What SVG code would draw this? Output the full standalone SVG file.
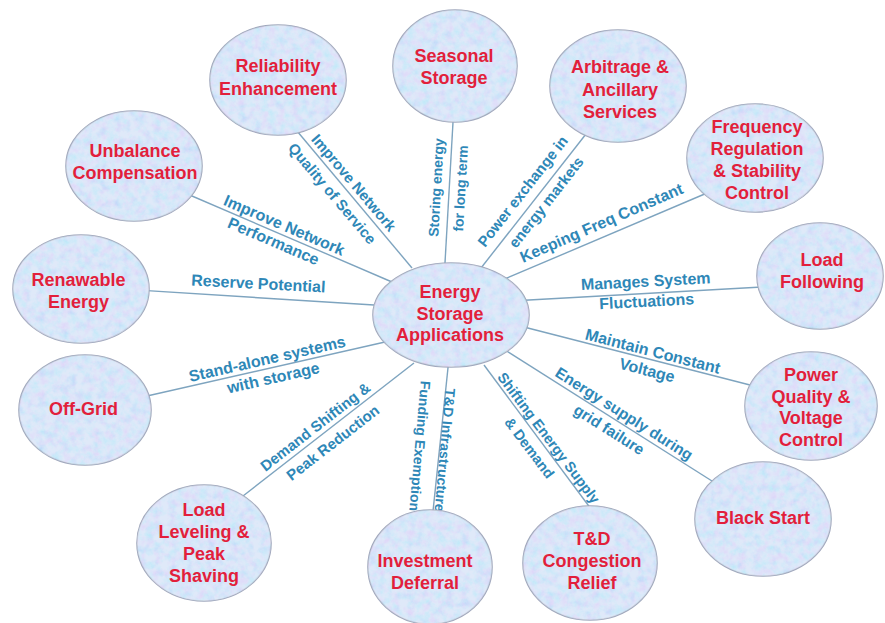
<svg xmlns="http://www.w3.org/2000/svg" width="885" height="623" viewBox="0 0 885 623">
  <defs>
    <!-- mottled paper-like tint laid over every bubble -->
    <filter id="grain" x="0" y="0" width="100%" height="100%">
      <feTurbulence type="fractalNoise" baseFrequency="0.13" numOctaves="4" seed="7" result="noise"/>
      <feColorMatrix in="noise" type="matrix" values="0.9 0 0 0 0.45  0 0.6 0 0 0.66  0 0 0 0 1  0 0 0 0 0.5" result="tint"/>
      <feComposite in="tint" in2="SourceAlpha" operator="in"/>
    </filter>
  </defs>
  <style>
    .node{fill:#bed2f2;stroke:#a0a8bd;stroke-width:1.6}
    .tex{fill:#fff;filter:url(#grain)}
    .nt{font-family:"Liberation Sans",Arial,sans-serif;font-weight:bold;font-size:18px;fill:#e21f3c;text-anchor:middle}
    .lb{font-family:"Liberation Sans",Arial,sans-serif;font-weight:bold;fill:#2e87b7;text-anchor:middle}
    #connectors line{stroke:#7ea4bf;stroke-width:1.4;fill:none}
  </style>
  <rect width="885" height="623" fill="#fff"/>

  <!-- spokes from the hub to each application -->
  <g id="connectors">
    <line x1="185" y1="193" x2="392" y2="282"/>
    <line x1="297" y1="131" x2="412" y2="268"/>
    <line x1="453.3" y1="117" x2="444.7" y2="268"/>
    <line x1="586" y1="134" x2="481" y2="268"/>
    <line x1="707" y1="193" x2="500" y2="281"/>
    <line x1="762" y1="287" x2="520" y2="300.5"/>
    <line x1="750" y1="385" x2="520" y2="326"/>
    <line x1="712" y1="481" x2="505" y2="350"/>
    <line x1="591" y1="509" x2="484" y2="365"/>
    <line x1="432.5" y1="516" x2="448.6" y2="362"/>
    <line x1="243" y1="496" x2="414" y2="363"/>
    <line x1="147" y1="396" x2="385" y2="342"/>
    <line x1="143" y1="290.4" x2="378" y2="305.3"/>
  </g>

  <!-- spoke labels -->
  <g id="labels">
    <text class="lb" font-size="16" transform="translate(284,225.7) rotate(23.3)" y="5">Improve Network</text>
    <text class="lb" font-size="16" transform="translate(273.3,241.7) rotate(23.3)" y="5">Performance</text>

    <text class="lb" font-size="15" transform="translate(353.3,183.3) rotate(49.8)" y="4.5">Improve Network</text>
    <text class="lb" font-size="15" transform="translate(331.7,194) rotate(49.8)" y="4.5">Quality of Service</text>

    <text class="lb" font-size="14" transform="translate(437,187.5) rotate(-86.7)" y="4">Storing energy</text>
    <text class="lb" font-size="14" transform="translate(461.5,188.5) rotate(-86.7)" y="4">for long term</text>

    <text class="lb" font-size="15" transform="translate(523.3,191.7) rotate(-51.9)" y="4.5">Power exchange in</text>
    <text class="lb" font-size="15" transform="translate(546.7,202.7) rotate(-51.9)" y="4.5">energy markets</text>

    <text class="lb" font-size="16" transform="translate(601.7,223.3) rotate(-23.5)" y="5">Keeping Freq Constant</text>

    <text class="lb" font-size="16" transform="translate(645.7,281.7) rotate(-3)" y="5">Manages System</text>
    <text class="lb" font-size="16" transform="translate(646.7,301.7) rotate(-3)" y="5">Fluctuations</text>

    <text class="lb" font-size="16" transform="translate(652.7,351.7) rotate(14.4)" y="5">Maintain Constant</text>
    <text class="lb" font-size="16" transform="translate(647,370.7) rotate(14.4)" y="5">Voltage</text>

    <text class="lb" font-size="15.5" transform="translate(624,414) rotate(32.4)" y="5">Energy supply during</text>
    <text class="lb" font-size="15.5" transform="translate(609,430) rotate(32.4)" y="5">grid failure</text>

    <text class="lb" font-size="14.5" transform="translate(548.3,438.3) rotate(53)" y="4.5">Shifting Energy Supply</text>
    <text class="lb" font-size="14.5" transform="translate(529,448.3) rotate(53)" y="4.5">&amp; Demand</text>

    <text class="lb" font-size="14" transform="translate(444,450) rotate(95)" y="4">T&amp;D Infrastructure</text>
    <text class="lb" font-size="14" transform="translate(419,446) rotate(95)" y="4">Funding Exemption</text>

    <text class="lb" font-size="15" transform="translate(315.7,427.3) rotate(-37.8)" y="4.5">Demand Shifting &amp;</text>
    <text class="lb" font-size="15" transform="translate(333.3,443.3) rotate(-37.8)" y="4.5">Peak Reduction</text>

    <text class="lb" font-size="16" transform="translate(267.3,359.3) rotate(-12.8)" y="5">Stand-alone systems</text>
    <text class="lb" font-size="16" transform="translate(273.3,378.3) rotate(-12.8)" y="5">with storage</text>

    <text class="lb" font-size="16" transform="translate(258.3,284) rotate(3)" y="5">Reserve Potential</text>
  </g>

  <!-- application bubbles -->
  <g id="reliability">
    <ellipse class="node" cx="278" cy="80" rx="68" ry="55"/>
    <ellipse class="tex" cx="278" cy="80" rx="68" ry="55"/>
    <text class="nt" x="278"><tspan x="278" y="72">Reliability</tspan><tspan x="278" y="94.5">Enhancement</tspan></text>
  </g>
  <g id="seasonal">
    <ellipse class="node" cx="455" cy="66" rx="62" ry="56"/>
    <ellipse class="tex" cx="455" cy="66" rx="62" ry="56"/>
    <text class="nt"><tspan x="454" y="62">Seasonal</tspan><tspan x="454" y="83.5">Storage</tspan></text>
  </g>
  <g id="arbitrage">
    <ellipse class="node" cx="618" cy="86" rx="68" ry="56"/>
    <ellipse class="tex" cx="618" cy="86" rx="68" ry="56"/>
    <text class="nt"><tspan x="620" y="73">Arbitrage &amp;</tspan><tspan x="620" y="95.5">Ancillary</tspan><tspan x="620" y="118">Services</tspan></text>
  </g>
  <g id="frequency">
    <ellipse class="node" cx="755" cy="158" rx="68" ry="54"/>
    <ellipse class="tex" cx="755" cy="158" rx="68" ry="54"/>
    <text class="nt"><tspan x="757" y="133">Frequency</tspan><tspan x="757" y="155">Regulation</tspan><tspan x="757" y="177">&amp; Stability</tspan><tspan x="757" y="198.5">Control</tspan></text>
  </g>
  <g id="load-following">
    <ellipse class="node" cx="820" cy="276" rx="63" ry="53"/>
    <ellipse class="tex" cx="820" cy="276" rx="63" ry="53"/>
    <text class="nt"><tspan x="822" y="266">Load</tspan><tspan x="822" y="288">Following</tspan></text>
  </g>
  <g id="power-quality">
    <ellipse class="node" cx="811" cy="406" rx="66" ry="54"/>
    <ellipse class="tex" cx="811" cy="406" rx="66" ry="54"/>
    <text class="nt"><tspan x="811" y="381">Power</tspan><tspan x="811" y="402.5">Quality &amp;</tspan><tspan x="811" y="424">Voltage</tspan><tspan x="811" y="445.5">Control</tspan></text>
  </g>
  <g id="black-start">
    <ellipse class="node" cx="763" cy="519" rx="68" ry="57"/>
    <ellipse class="tex" cx="763" cy="519" rx="68" ry="57"/>
    <text class="nt" x="763" y="524">Black Start</text>
  </g>
  <g id="td-congestion">
    <ellipse class="node" cx="590" cy="563" rx="67" ry="57"/>
    <ellipse class="tex" cx="590" cy="563" rx="67" ry="57"/>
    <text class="nt"><tspan x="592" y="545">T&amp;D</tspan><tspan x="592" y="567">Congestion</tspan><tspan x="592" y="588.5">Relief</tspan></text>
  </g>
  <g id="investment">
    <ellipse class="node" cx="430" cy="567" rx="62" ry="57"/>
    <ellipse class="tex" cx="430" cy="567" rx="62" ry="57"/>
    <text class="nt"><tspan x="425" y="567">Investment</tspan><tspan x="425" y="588.5">Deferral</tspan></text>
  </g>
  <g id="load-leveling">
    <ellipse class="node" cx="204" cy="543" rx="67" ry="58"/>
    <ellipse class="tex" cx="204" cy="543" rx="67" ry="58"/>
    <text class="nt"><tspan x="204" y="515.5">Load</tspan><tspan x="204" y="537.5">Leveling &amp;</tspan><tspan x="204" y="559.5">Peak</tspan><tspan x="204" y="581.5">Shaving</tspan></text>
  </g>
  <g id="off-grid">
    <ellipse class="node" cx="85" cy="410" rx="66" ry="55"/>
    <ellipse class="tex" cx="85" cy="410" rx="66" ry="55"/>
    <text class="nt" x="83.5" y="415">Off-Grid</text>
  </g>
  <g id="renewable">
    <ellipse class="node" cx="81" cy="289" rx="68" ry="54"/>
    <ellipse class="tex" cx="81" cy="289" rx="68" ry="54"/>
    <text class="nt"><tspan x="78.5" y="286">Renawable</tspan><tspan x="78.5" y="307.5">Energy</tspan></text>
  </g>
  <g id="unbalance">
    <ellipse class="node" cx="134" cy="166" rx="68" ry="55"/>
    <ellipse class="tex" cx="134" cy="166" rx="68" ry="55"/>
    <text class="nt"><tspan x="135" y="157">Unbalance</tspan><tspan x="135" y="179">Compensation</tspan></text>
  </g>

  <!-- hub -->
  <g id="hub">
    <ellipse class="node" cx="451" cy="315" rx="78" ry="52"/>
    <ellipse class="tex" cx="451" cy="315" rx="78" ry="52"/>
    <text class="nt"><tspan x="450" y="298">Energy</tspan><tspan x="450" y="319.5">Storage</tspan><tspan x="450" y="340.5">Applications</tspan></text>
  </g>
</svg>
